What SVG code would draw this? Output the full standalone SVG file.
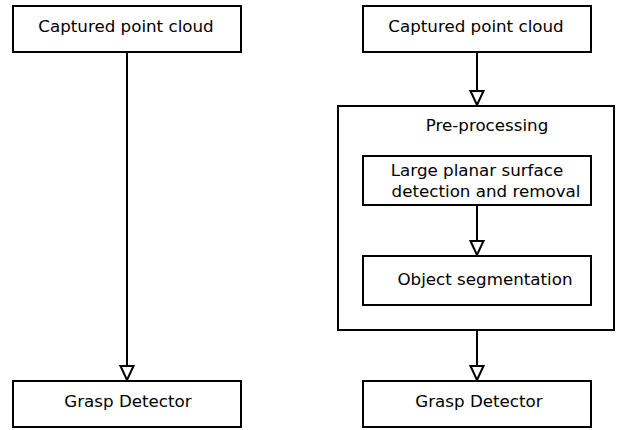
<svg xmlns="http://www.w3.org/2000/svg" width="619" height="430" viewBox="0 0 619 430">
  <style>
    .box { fill: #fff; stroke: #000; stroke-width: 2; }
    .lbl { font-family: "DejaVu Sans", sans-serif; font-size: 16.7px; fill: #000; text-anchor: middle; }
    .wire { stroke: #000; stroke-width: 2; fill: none; marker-end: url(#hollow); }
  </style>
  <defs>
    <marker id="hollow" viewBox="0 0 16 16" refX="15" refY="8" markerWidth="16" markerHeight="16" markerUnits="userSpaceOnUse" orient="auto">
      <path d="M1,1.5 L15,8 L1,14.5 Z" fill="#fff" stroke="#000" stroke-width="2" stroke-linejoin="miter"/>
    </marker>
  </defs>
  <rect width="619" height="430" fill="#fff"/>

  <!-- left pipeline -->
  <g id="capture-left">
    <rect class="box" x="13" y="6" width="228" height="46"/>
    <text class="lbl" x="126" y="32">Captured point cloud</text>
  </g>
  <g id="grasp-left">
    <rect class="box" x="13" y="381" width="228" height="46"/>
    <text class="lbl" x="128" y="407">Grasp Detector</text>
  </g>

  <!-- right pipeline -->
  <g id="capture-right">
    <rect class="box" x="363" y="6" width="228" height="46"/>
    <text class="lbl" x="476" y="32">Captured point cloud</text>
  </g>
  <g id="preprocessing">
    <rect class="box" x="338" y="106" width="276" height="224"/>
    <text class="lbl" x="487" y="131">Pre-processing</text>
  </g>
  <g id="plane-removal">
    <rect class="box" x="363" y="156" width="228" height="49"/>
    <text class="lbl" x="477" y="176">Large planar surface</text>
    <text class="lbl" x="486" y="197">detection and removal</text>
  </g>
  <g id="segmentation">
    <rect class="box" x="363" y="256" width="228" height="49"/>
    <text class="lbl" x="485" y="285">Object segmentation</text>
  </g>
  <g id="grasp-right">
    <rect class="box" x="363" y="381" width="228" height="46"/>
    <text class="lbl" x="479" y="407">Grasp Detector</text>
  </g>

  <!-- connectors -->
  <g id="connectors">
    <line class="wire" x1="127" y1="52" x2="127" y2="380"/>
    <line class="wire" x1="477" y1="52" x2="477" y2="105"/>
    <line class="wire" x1="477" y1="205" x2="477" y2="255"/>
    <line class="wire" x1="477" y1="330" x2="477" y2="380"/>
  </g>
</svg>
